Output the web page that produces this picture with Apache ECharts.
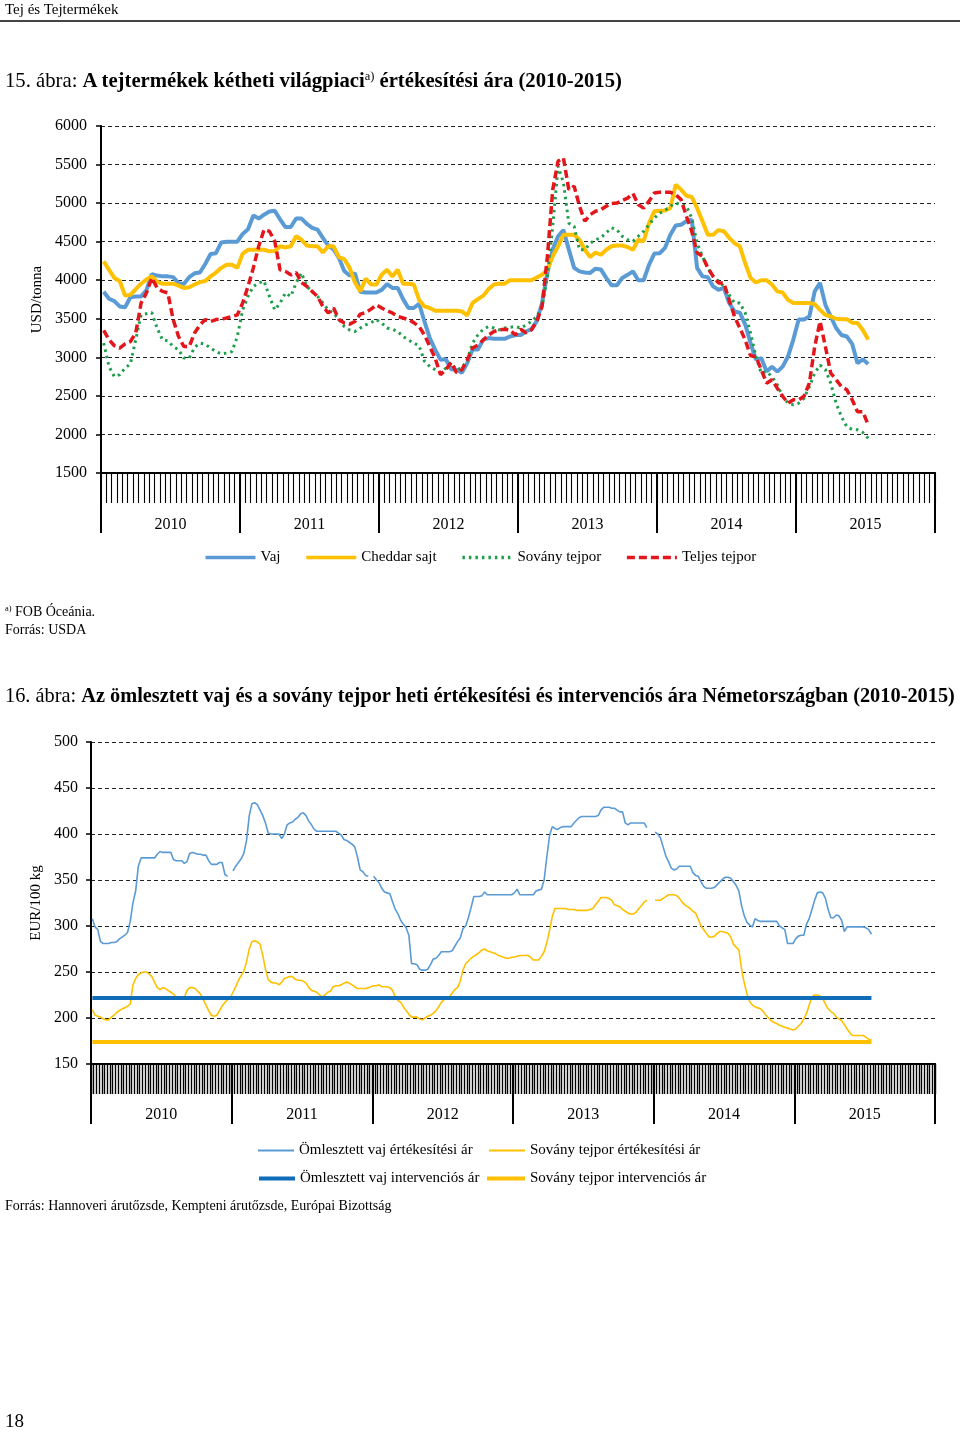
<!DOCTYPE html>
<html>
<head>
<meta charset="utf-8">
<script src="https://cdn.jsdelivr.net/npm/echarts@6/dist/echarts.min.js"></script>
<style>
  html, body { margin: 0; padding: 0; background: #fff; }
  body { width: 960px; height: 1433px; position: relative; overflow: hidden; font-family: 'Liberation Serif', 'DejaVu Serif', serif; color: #000; }
  #chart { position: absolute; left: 0; top: 0; width: 960px; height: 1433px; }
  .t { position: absolute; white-space: nowrap; z-index: 2; }
  sup { font-size: 60%; vertical-align: 0; position: relative; top: -0.6em; }
</style>
</head>
<body>
<div id="chart"></div>
<div class="t" style="left:5px; top:0px; font-size:15px; line-height:18px;">Tej és Tejtermékek</div>
<div style="position:absolute; left:0; top:20px; width:960px; height:2px; background:#444; z-index:2;"></div>
<div class="t" style="left:5px; top:68px; font-size:20.7px; line-height:24px;">15. ábra: <b>A tejtermékek kétheti világpiaci<sup style="font-weight:normal">a)</sup> értékesítési ára (2010-2015)</b></div>
<div class="t" style="left:5px; top:603px; font-size:14px; line-height:18px;"><sup>a)</sup> FOB Óceánia.</div>
<div class="t" style="left:5px; top:621px; font-size:14px; line-height:18px;">Forrás: USDA</div>
<div class="t" style="left:5px; top:683px; font-size:20.35px; line-height:24px;">16. ábra: <b>Az ömlesztett vaj és a sovány tejpor heti értékesítési és intervenciós ára Németországban (2010-2015)</b></div>
<div class="t" style="left:5px; top:1197px; font-size:14px; line-height:18px;">Forrás: Hannoveri árutőzsde, Kempteni árutőzsde, Európai Bizottság</div>
<div class="t" style="left:5px; top:1410px; font-size:19px; line-height:22px;">18</div>
<script>
// ---------- shared ----------
const years = ['2010', '2011', '2012', '2013', '2014', '2015'];

// ---------- Chart 15: biweekly world prices, USD/tonna ----------
const yTicks15 = { min: 1500, max: 6000, step: 500 };
const vaj = [
  3850,3760,3730,3660,3650,3780,3790,3790,3870,4080,4060,4050,4050,4040,3960,3950,4040,4090,4100,4210,4340,4350,4490,4500,4500,4500,
  4600,4660,4840,4800,4850,4890,4900,4790,4690,4690,4800,4800,4730,4680,4655,4550,4450,4400,4290,4120,4060,4090,3850,3840,3840,3840,
  3875,3950,3900,3900,3755,3640,3640,3695,3465,3250,3100,2970,2975,2845,2840,2800,2925,3100,3100,3230,3250,3240,3240,3240,3270,3290,
  3290,3335,3365,3465,3705,4095,4400,4570,4650,4400,4160,4115,4100,4095,4150,4140,4030,3935,3935,4030,4070,4115,4000,4000,4200,4345,
  4350,4420,4590,4710,4720,4765,4785,4160,4050,4040,3920,3875,3900,3705,3595,3580,3425,3185,2970,2990,2815,2880,2815,2880,3010,3230,
  3490,3490,3530,3855,3965,3680,3530,3380,3290,3270,3175,2925,2975,2915
];
const cheddar = [
  4245,4135,4030,3990,3800,3810,3885,3955,4010,4050,3980,3955,3955,3955,3930,3900,3910,3945,3975,3990,4050,4100,4160,4200,4200,4160,
  4345,4395,4395,4395,4395,4375,4380,4440,4425,4440,4570,4525,4450,4440,4440,4360,4440,4440,4300,4275,4160,3970,3855,4020,3945,3945,
  4070,4135,4050,4135,3955,3955,3945,3745,3660,3640,3605,3605,3605,3605,3605,3595,3545,3705,3755,3800,3885,3945,3955,3955,4000,4000,
  4000,4000,4000,4035,4070,4135,4310,4440,4590,4590,4590,4525,4395,4300,4360,4330,4395,4440,4450,4450,4430,4395,4525,4505,4740,4895,
  4900,4905,4935,5240,5175,5095,5080,4935,4765,4590,4590,4650,4635,4550,4480,4440,4220,4030,3970,4000,4000,3945,3855,3840,3745,3705,
  3705,3705,3705,3690,3615,3550,3530,3500,3495,3495,3450,3445,3355,3230
];
const sovanyTejpor = [
  3185,2880,2750,2775,2860,2915,3230,3550,3565,3580,3380,3225,3215,3140,3100,2990,2990,3130,3185,3170,3120,3075,3045,3055,3075,3270,
  3615,3790,3920,3965,3990,3790,3615,3705,3835,3790,3965,4095,3920,3855,3790,3705,3615,3575,3490,3400,3355,3335,3380,3420,3450,3490,
  3445,3380,3365,3335,3270,3225,3185,3150,2950,2880,2840,2805,2860,2925,2840,2860,2965,3185,3290,3365,3400,3380,3355,3380,3390,3400,
  3380,3420,3465,3530,3660,4050,4700,5480,5265,4740,4700,4395,4395,4480,4525,4550,4615,4680,4655,4570,4525,4505,4570,4635,4720,4805,
  4870,4905,4960,5000,4980,4960,4805,4480,4310,4160,4050,3990,3920,3810,3705,3705,3575,3315,3010,2795,2815,2750,2645,2495,2405,2385,
  2405,2470,2620,2795,2900,2840,2665,2405,2230,2100,2065,2060,2025,1950
];
const teljesTejpor = [
  3350,3230,3150,3120,3175,3205,3315,3705,3835,4030,3900,3855,3835,3490,3270,3140,3140,3315,3420,3490,3465,3490,3495,3510,3530,3550,
  3705,3920,4160,4440,4655,4635,4505,4135,4115,4070,4100,3970,3920,3855,3790,3660,3575,3640,3490,3445,3430,3465,3560,3580,3625,3680,
  3640,3605,3575,3530,3510,3490,3450,3400,3290,3140,2990,2775,2840,2935,2800,2840,2965,3120,3160,3225,3290,3335,3355,3365,3355,3290,
  3365,3320,3355,3465,3660,4310,5175,5545,5585,5175,5220,4960,4765,4850,4895,4915,4960,4995,5000,5035,5065,5125,4980,4935,5025,5130,
  5140,5140,5140,5110,5045,4830,4635,4355,4310,4160,4050,3965,3965,3745,3530,3380,3225,3020,3010,2840,2665,2710,2600,2495,2405,2450,
  2450,2495,2665,3140,3465,3140,2795,2710,2620,2580,2450,2295,2295,2125
];

// ---------- Chart 16: weekly German prices, EUR/100 kg ----------
const yTicks16 = { min: 150, max: 500, step: 50 };
const vajErtekesitesi = [
  308,299,296,283,281,281,281,282,282,283, 286,288,290,293,305,325,338,365,374,374,
  374,374,374,374,378,381,380,380,380,380, 372,371,371,371,368,370,379,380,379,378,
  378,377,377,371,367,367,367,369,369,356, 354,null,360,365,369,373,379,393,420,433,
  434,432,426,420,412,401,400,400,400,400, 395,400,410,412,413,416,418,422,423,420,
  414,410,405,403,403,403,403,403,403,403, 403,401,399,394,393,391,389,386,375,361,
  359,355,354,null,354,350,347,341,337,336, 335,326,318,313,306,302,298,290,259,259,
  258,253,252,252,253,258,264,265,268,272, 272,272,272,273,278,283,287,297,300,309,
  320,332,332,332,333,337,334,334,334,334, 334,334,334,334,334,334,336,340,334,334,
  334,334,334,334,338,339,340,350,375,398, 408,406,405,407,408,408,408,408,412,415,
  418,419,419,419,419,419,419,420,426,429, 429,429,428,428,426,424,424,412,410,412,
  412,412,412,412,412,407,null,null,402,400, 396,386,376,370,363,361,362,365,365,365,
  365,365,358,355,354,348,343,341,341,341, 342,345,348,351,353,353,352,348,344,338,
  322,311,304,301,299,308,306,305,305,305, 305,305,305,305,300,298,296,281,281,281,
  286,289,290,290,302,308,318,328,336,337, 336,330,318,309,309,312,311,306,294,299,
  299,299,299,299,299,299,298,296,291
];
const sovanyErtekesitesi = [
  209,203,202,201,199,198,198,201,203,206, 208,210,211,213,215,236,243,247,249,250,
  250,248,245,239,233,231,233,232,230,228, 226,222,221,221,222,230,233,233,232,229,
  226,220,214,208,203,202,203,208,213,217, 220,222,228,234,241,246,251,261,275,283,
  284,283,280,268,253,242,239,238,238,236, 239,243,244,245,245,242,241,241,240,238,
  233,230,229,228,225,223,225,228,229,234, 235,235,236,238,239,238,236,234,232,232,
  232,232,233,234,235,235,236,234,234,234, 233,230,223,219,217,212,208,204,201,201,
  201,199,198,200,202,203,205,208,212,217, 220,221,223,227,231,233,240,252,259,262,
  265,267,269,271,274,275,273,272,271,270, 268,267,266,265,265,266,266,267,268,268,
  268,268,266,263,263,263,267,272,282,295, 310,319,319,319,319,319,318,318,318,317,
  317,317,317,317,318,319,323,327,331,331, 331,330,328,323,322,321,318,316,314,313,
  313,315,319,322,326,328,null,null,328,328, 328,330,332,334,334,334,333,330,326,323,
  321,319,316,314,307,300,296,292,288,288, 289,292,294,294,293,292,288,280,277,274,
  253,238,226,218,214,212,211,210,207,203, 200,197,195,194,192,191,190,189,188,187,
  188,191,194,199,205,214,223,225,225,224, 221,215,210,207,205,201,199,197,193,188,
  184,181,181,181,181,181,179,177,176
];
const vajIntervencios = 221.75;
const sovanyIntervencios = 174;

// ---------- categories ----------
const biweekly = [];
years.forEach(y => { for (let p = 1; p <= 26; p++) biweekly.push(y + '/' + p); });
const weekly = [];
years.forEach(y => { for (let w = 1; w <= 52; w++) weekly.push(y + '/' + w); });
const lastWeek = vajErtekesitesi.length - 1;

// ---------- styles ----------
const FONT = 'Liberation Serif';
const black = '#000';
const txt = (s) => ({ fontFamily: FONT, fontSize: s, color: black });

function denseAxis(gridIndex, data, w) {
  return {
    type: 'category', gridIndex, data, position: 'bottom', boundaryGap: true,
    axisLine: { show: true, lineStyle: { color: black, width: 2 } },
    axisTick: { show: true, interval: 0, length: 30, lineStyle: { color: black, width: w } },
    axisLabel: { show: false }, splitLine: { show: false }
  };
}
function yearAxis(gridIndex, margin) {
  return {
    type: 'category', gridIndex, data: years, position: 'bottom', boundaryGap: true,
    axisLine: { show: true, lineStyle: { color: black, width: 2 } },
    axisTick: { show: true, interval: 0, length: 60, lineStyle: { color: black, width: 2 } },
    axisLabel: Object.assign({ interval: 0, margin }, txt(16)), splitLine: { show: false }
  };
}
function valueAxis(gridIndex, t, name, nameGap, margin) {
  return {
    type: 'value', gridIndex, min: t.min, max: t.max, interval: t.step,
    axisLine: { show: true, lineStyle: { color: black, width: 2 } },
    axisTick: { show: true, length: 5, lineStyle: { color: black, width: 1.5 } },
    axisLabel: Object.assign({ margin, formatter: v => String(v) }, txt(16)),
    splitLine: { show: true, lineStyle: { color: '#222', width: 1, type: [4, 3] } },
    name, nameLocation: 'middle', nameRotate: 90, nameGap,
    nameTextStyle: txt(15)
  };
}

const BLUE = '#5B9BD5', GOLD = '#FFC000', GREEN = '#1E9E4A', RED = '#E3161C', DBLUE = '#0E6CB8';
function line(name, data, xi, yi, color, width, type, z) {
  return {
    name, type: 'line', data, xAxisIndex: xi, yAxisIndex: yi, symbol: 'none', showSymbol: false,
    connectNulls: false, z: z || 2,
    lineStyle: { color, width, type: type || 'solid' }, itemStyle: { color },
    emphasis: { disabled: true }
  };
}
const hiddenSymbol = { opacity: 0 };

const option = {
  animation: false,
  grid: [
    { left: 101, top: 126, width: 834, height: 347, containLabel: false },
    { left: 91, top: 742, width: 844, height: 322, containLabel: false }
  ],
  xAxis: [
    denseAxis(0, biweekly, 1.1), yearAxis(0, 44),
    denseAxis(1, weekly, 1.4), yearAxis(1, 43)
  ],
  yAxis: [
    valueAxis(0, yTicks15, 'USD/tonna', 51, 14),
    valueAxis(1, yTicks16, 'EUR/100 kg', 43, 13)
  ],
  legend: [
    { top: 545, left: 'center', itemWidth: 50, itemHeight: 14, itemGap: 24, textStyle: txt(15), itemStyle: hiddenSymbol,
      lineStyle: { width: 3.5 },
      data: ['Vaj', 'Cheddar sajt', 'Sovány tejpor', 'Teljes tejpor'] },
    { top: 1138, left: 252, itemWidth: 36, itemHeight: 14, textStyle: txt(15), itemStyle: hiddenSymbol, lineStyle: { width: 2 }, data: ['Ömlesztett vaj értékesítési ár'] },
    { top: 1138, left: 483, itemWidth: 36, itemHeight: 14, textStyle: txt(15), itemStyle: hiddenSymbol, lineStyle: { width: 2 }, data: ['Sovány tejpor értékesítési ár'] },
    { top: 1166, left: 252, itemWidth: 36, itemHeight: 14, textStyle: txt(15), itemStyle: hiddenSymbol, lineStyle: { width: 4 }, data: ['Ömlesztett vaj intervenciós ár'] },
    { top: 1166, left: 480, itemWidth: 38, itemHeight: 14, textStyle: txt(15), itemStyle: hiddenSymbol, lineStyle: { width: 4 }, data: ['Sovány tejpor intervenciós ár'] }
  ],
  series: [
    line('Vaj', vaj, 0, 0, BLUE, 4),
    line('Cheddar sajt', cheddar, 0, 0, GOLD, 4),
    line('Sovány tejpor', sovanyTejpor, 0, 0, GREEN, 3, [2.5, 4]),
    line('Teljes tejpor', teljesTejpor, 0, 0, RED, 3.5, [8, 4], 3),
    line('Ömlesztett vaj értékesítési ár', vajErtekesitesi, 2, 1, BLUE, 1.6),
    line('Sovány tejpor értékesítési ár', sovanyErtekesitesi, 2, 1, GOLD, 1.6),
    line('Ömlesztett vaj intervenciós ár', [[0, vajIntervencios], [lastWeek, vajIntervencios]], 2, 1, DBLUE, 4, 'solid', 3),
    line('Sovány tejpor intervenciós ár', [[0, sovanyIntervencios], [lastWeek, sovanyIntervencios]], 2, 1, GOLD, 4, 'solid', 3)
  ]
};

const chart = echarts.init(document.getElementById('chart'), null, { renderer: 'canvas', width: 960, height: 1433 });
chart.setOption(option);
</script>
</body>
</html>
